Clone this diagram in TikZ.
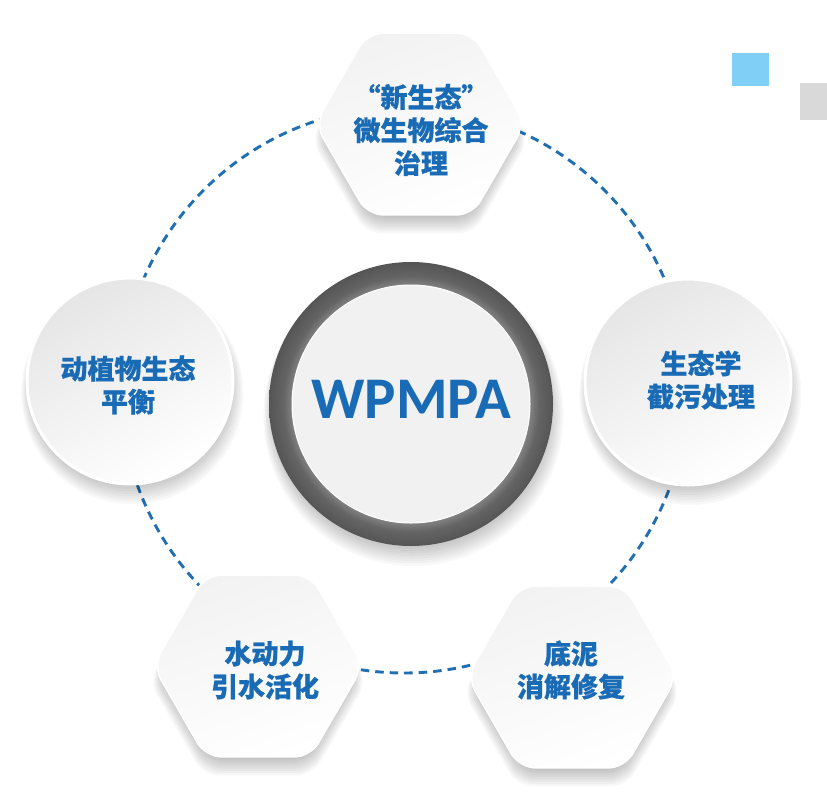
\documentclass[tikz,border=0pt]{standalone}
\usepackage{fontspec}
\newfontfamily\cjk{Noto Sans CJK SC}[BoldFeatures={FakeBold=0.7}]
\newfontfamily\lat{Carlito}
\usetikzlibrary{shapes.geometric}
\definecolor{tblue}{HTML}{1A6BB5}
\definecolor{dblue}{HTML}{1F6FB2}
\definecolor{sqblue}{HTML}{80CFF6}
\definecolor{sqgray}{HTML}{D9D9D9}
\definecolor{innergray}{HTML}{F1F1F1}
\definecolor{ringin}{HTML}{858585}
\definecolor{ringmid}{HTML}{646464}
\definecolor{ringout}{HTML}{555555}
\pgfdeclareradialshading{ringsh}{\pgfpoint{0bp}{0bp}}{%
  color(0bp)=(ringin); color(20.8bp)=(ringin); color(22.5bp)=(ringmid);
  color(25bp)=(ringout); color(50bp)=(ringout)}
\newcommand\hexshadow[1]{%
  \foreach \k in {1,...,8}{%
    \node[regular polygon, regular polygon sides=6, inner sep=0pt, rounded corners=16pt,
      minimum size={194pt+3*\k pt}, fill=black, fill opacity=0.03]
      (sh#1\k) at ([yshift={-7pt-\k pt}]#1) {};}}
\newcommand\circshadow[2]{%
  \foreach \k in {1,...,8}{%
    \node[circle, inner sep=0pt, minimum size={#2-8pt+3*\k pt}, fill=black, fill opacity=0.026]
      (sh#1\k) at ([xshift={0.3*\k pt},yshift={-4pt-\k pt}]#1) {};}}
\begin{document}
\begin{tikzpicture}[x=1pt,y=-1pt,
  hexbox/.style={regular polygon, regular polygon sides=6, minimum size=210pt, inner sep=0pt,
    rounded corners=16pt, draw=white, line width=1.5pt,
    shading=axis, top color=black!5, bottom color=white, shading angle=20},
  circbox/.style={circle, minimum size=206pt, inner sep=0pt, draw=white, line width=3pt,
    shading=axis, top color=black!10, bottom color=white, shading angle=30},
  lbl/.style={text=tblue, font=\cjk\bfseries\fontsize{27}{33}\selectfont, align=center, inner sep=0pt},
  dashring/.style={draw=dblue, line width=2.9pt, dash pattern=on 8.5pt off 6pt}]
\useasboundingbox[fill=white] (0,0) rectangle (827,806);

% decorative squares
\fill[sqblue] (732,53) rectangle (769,86);
\fill[sqgray] (800,83) rectangle (827,120);

% positions
\coordinate (ring) at (404,390);
\coordinate (ptop) at (420,124);
\coordinate (pleft) at (130,381);
\coordinate (pright) at (688,382);
\coordinate (pbl) at (258,666);
\coordinate (pbr) at (572,677);
\coordinate (pcen) at (411,404);

% dashed orbit
\draw[dashring] (ring) circle (283pt);

% shadows
\hexshadow{ptop}
\hexshadow{pbl}
\hexshadow{pbr}
\circshadow{pleft}{206pt}
\circshadow{pright}{206pt}
\circshadow{pcen}{284pt}

% outer nodes
\node[hexbox] (top) at (ptop) {};
\node[hexbox] (bl) at (pbl) {};
\node[hexbox] (br) at (pbr) {};
\node[circbox] (left) at (pleft) {};
\node[circbox] (right) at (pright) {};

% center
\node[circle, minimum size=284pt, inner sep=0pt, shade, shading=ringsh] (cring) at (pcen) {};
\node[circle, minimum size=238pt, inner sep=0pt, fill=innergray, draw=white, line width=1pt] (cin) at (pcen) {};
\node[text=tblue, font=\lat\bfseries\fontsize{59}{60}\selectfont, anchor=base, inner sep=0pt] (ctxt) at (411,418) {WPMPA};

% labels
\node[lbl] (ttop) at (421,130) {“新生态”\\微生物综合\\治理};
\node[lbl] (tleft) at (128,385) {动植物生态\\平衡};
\node[lbl] (tright) at (701,380) {生态学\\截污处理};
\node[lbl] (tbl) at (265,670) {水动力\\引水活化};
\node[lbl] (tbr) at (571,670) {底泥\\消解修复};
\end{tikzpicture}
\end{document}
